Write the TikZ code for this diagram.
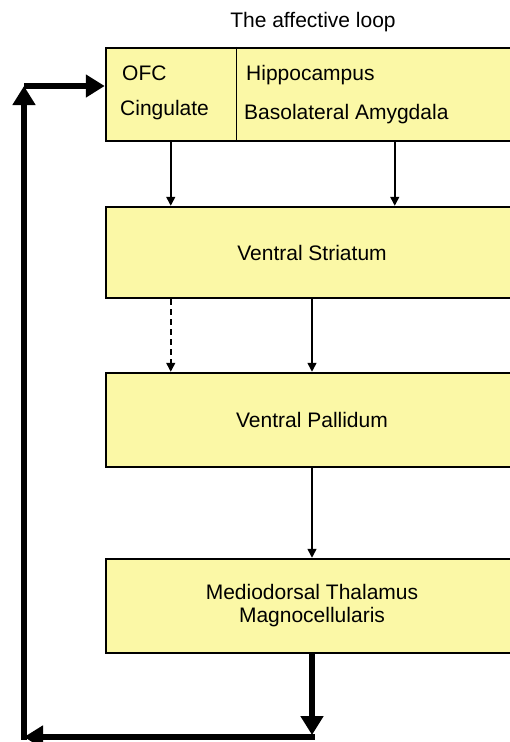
\documentclass[tikz,border=0pt]{standalone}
\usepackage{fontspec}
\setmainfont{Liberation Sans}
\usetikzlibrary{arrows.meta}
\definecolor{boxyellow}{RGB}{251,248,166}
\tikzset{
  area/.style={draw, line width=2.5pt, fill=boxyellow, minimum width=412pt, inner sep=0pt, align=center},
  feed/.style={line width=1.5pt, -{Triangle[length=9pt,width=9pt]}},
  back/.style={line width=5.5pt, -{Triangle[length=19pt,width=22pt]}}
}

\begin{document}
\begin{tikzpicture}[x=1pt,y=-1pt,font=\fontsize{21}{23}\selectfont]
\useasboundingbox (0,0) rectangle (510,742);
\clip (0,0) rectangle (510,742);
\node (title) at (313,22) {The affective loop};
\node (cortex) [area, minimum height=93pt] at (312,94.5) {};
\node (striatum) [area, minimum height=91pt] at (312,252.5) {Ventral Striatum};
\node (pallidum) [area, minimum height=94pt] at (312,420) {Ventral Pallidum};
\node (thalamus) [area, minimum height=94pt] at (312,606) {Mediodorsal Thalamus\\Magnocellularis};
\draw [line width=1pt] ([xshift=132pt]cortex.north west) -- ([xshift=132pt]cortex.south west);
\node (ofc) [anchor=base west, inner sep=0pt] at (122,80) {OFC};
\node (cing) [anchor=base west, inner sep=0pt] at (120,115) {Cingulate};
\node (hippo) [anchor=base west, inner sep=0pt] at (246,80) {Hippocampus};
\node (amyg) [anchor=base west, inner sep=0pt] at (244,119) {Basolateral Amygdala};
\draw [feed] ([xshift=66pt]cortex.south west) -- ([xshift=66pt]striatum.north west);
\draw [feed] ([xshift=290pt]cortex.south west) -- ([xshift=290pt]striatum.north west);
\draw [feed, dashed, dash pattern=on 6pt off 4pt] ([xshift=66pt]striatum.south west) -- ([xshift=66pt]pallidum.north west);
\draw [feed] (striatum.south) -- (pallidum.north);
\draw [feed] (pallidum.south) -- (thalamus.north);
\coordinate (corner br) at (312,737);
\coordinate (corner bl) at (24,737);
\coordinate (corner tl) at (24,86);
\draw [back] (thalamus.south) -- ([yshift=2pt]corner br);
\draw [back] ([xshift=2.75pt]corner br) -- (corner bl);
\draw [back] ([yshift=-2.75pt]corner bl) -- (corner tl);
\draw [back] (corner tl) -- (corner tl -| cortex.west);
\end{tikzpicture}
\end{document}
